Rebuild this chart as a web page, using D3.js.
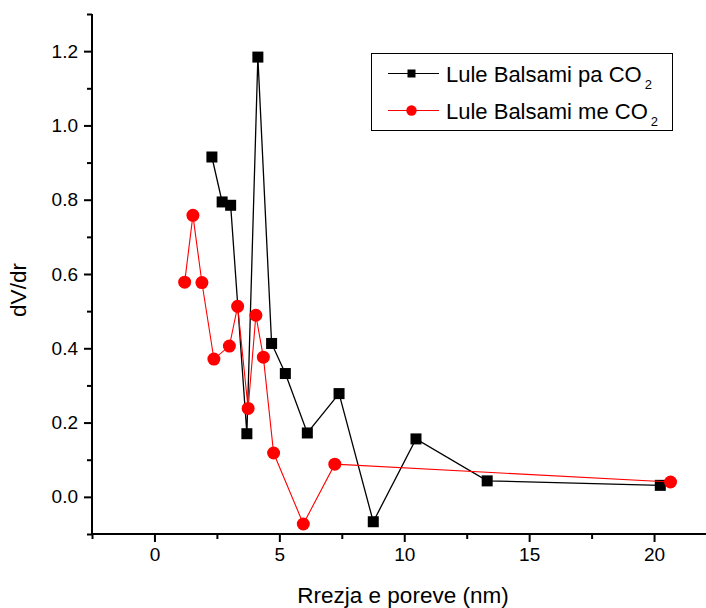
<!DOCTYPE html>
<html>
<head>
<meta charset="utf-8">
<script src="https://cdn.jsdelivr.net/npm/d3@7/dist/d3.min.js"></script>
<style>
  html, body { margin: 0; padding: 0; background: #fff; }
  svg { display: block; font-family: Arial, "Liberation Sans", sans-serif; }
</style>
</head>
<body>
<div id="chart"></div>
<script>
// Data
const seriesNames = ["Lule Balsami pa CO", "Lule Balsami me CO"];
const blackX = [2.30, 2.71, 3.05, 3.70, 4.14, 4.69, 5.24, 6.12, 7.39, 8.76, 10.47, 13.32, 20.25];
const blackY = [0.915, 0.794, 0.785, 0.170, 1.184, 0.413, 0.332, 0.172, 0.278, -0.067, 0.156, 0.043, 0.031];
const redX = [1.21, 1.54, 1.90, 2.38, 3.00, 3.33, 3.75, 4.06, 4.36, 4.77, 5.96, 7.22, 20.66];
const redY = [0.578, 0.758, 0.577, 0.371, 0.406, 0.513, 0.238, 0.489, 0.376, 0.118, -0.073, 0.088, 0.040];
const xTicks = [0, 5, 10, 15, 20];
const xMinorTicks = [-2.5, 2.5, 7.5, 12.5, 17.5, 22.5];
const yTicks = [0.0, 0.2, 0.4, 0.6, 0.8, 1.0, 1.2];
const yMinorTicks = [-0.1, 0.1, 0.3, 0.5, 0.7, 0.9, 1.1, 1.3];
const xTitle = "Rrezja e poreve (nm)";
const yTitle = "dV/dr";

const W = 706, H = 608;
const svg = d3.select("#chart").append("svg").attr("width", W).attr("height", H);

const x = d3.scaleLinear().domain([-2.5, 22.5]).range([92, 92 + 25 * 24.98]);
const y = d3.scaleLinear().domain([-0.1, 1.3]).range([534, 14]);

// Minor ticks
const xMinor = d3.axisBottom(x).tickValues(xMinorTicks).tickSize(5).tickFormat("");
const yMinor = d3.axisLeft(y).tickValues(yMinorTicks).tickSize(5).tickFormat("");
svg.append("g").attr("transform", "translate(0,534)").call(xMinor)
  .call(g => g.select(".domain").remove())
  .call(g => g.selectAll("line").attr("stroke", "#000").attr("stroke-width", 2));
svg.append("g").attr("transform", "translate(92,0)").call(yMinor)
  .call(g => g.select(".domain").remove())
  .call(g => g.selectAll("line").attr("stroke", "#000").attr("stroke-width", 2));

// Major axes
const xAxis = d3.axisBottom(x).tickValues(xTicks).tickSize(8).tickPadding(6).tickFormat(d3.format("d"));
const yAxis = d3.axisLeft(y).tickValues(yTicks).tickSize(8).tickPadding(6).tickFormat(d3.format(".1f"));
svg.append("g").attr("transform", "translate(0,534)").call(xAxis)
  .call(g => g.select(".domain").attr("d", `M92,0H${W}`).attr("stroke", "#000").attr("stroke-width", 2))
  .call(g => g.selectAll("line").attr("stroke", "#000").attr("stroke-width", 2))
  .call(g => g.selectAll("text").attr("font-size", 19).attr("fill", "#000")
    .attr("font-family", "Arial, 'Liberation Sans', sans-serif"));
svg.append("g").attr("transform", "translate(92,0)").call(yAxis)
  .call(g => g.select(".domain").attr("d", "M0,534V14").attr("stroke", "#000").attr("stroke-width", 2))
  .call(g => g.selectAll("line").attr("stroke", "#000").attr("stroke-width", 2))
  .call(g => g.selectAll("text").attr("font-size", 19).attr("fill", "#000")
    .attr("font-family", "Arial, 'Liberation Sans', sans-serif"));

// Axis titles
svg.append("text").attr("x", 403).attr("y", 603).attr("text-anchor", "middle")
  .attr("font-size", 22.5).attr("fill", "#000").text(xTitle);
svg.append("text").attr("transform", "translate(26,290) rotate(-90)").attr("text-anchor", "middle")
  .attr("font-size", 22.5).attr("fill", "#000").text(yTitle);

// Series
const black = blackX.map((v, i) => [v, blackY[i]]);
const red = redX.map((v, i) => [v, redY[i]]);
const line = d3.line().x(d => x(d[0])).y(d => y(d[1]));

svg.append("path").datum(black).attr("d", line).attr("fill", "none")
  .attr("stroke", "#000").attr("stroke-width", 1.3);
svg.append("g").selectAll("rect").data(black).join("rect")
  .attr("x", d => x(d[0]) - 5.5).attr("y", d => y(d[1]) - 5.5)
  .attr("width", 11).attr("height", 11).attr("fill", "#000");

svg.append("path").datum(red).attr("d", line).attr("fill", "none")
  .attr("stroke", "#ff0000").attr("stroke-width", 1.1);
svg.append("g").selectAll("circle").data(red).join("circle")
  .attr("cx", d => x(d[0])).attr("cy", d => y(d[1])).attr("r", 6.5).attr("fill", "#ff0000");

// Legend
const lg = svg.append("g");
lg.append("rect").attr("x", 371.5).attr("y", 53.5).attr("width", 301).attr("height", 77)
  .attr("fill", "#fff").attr("stroke", "#000").attr("stroke-width", 1);
const rows = [
  { name: seriesNames[0], color: "#000", cy: 73.5, shape: "square" },
  { name: seriesNames[1], color: "#ff0000", cy: 110.5, shape: "circle" }
];
rows.forEach(r => {
  lg.append("line").attr("x1", 388).attr("x2", 439).attr("y1", r.cy).attr("y2", r.cy)
    .attr("stroke", r.color).attr("stroke-width", 1.2);
  if (r.shape === "square") {
    lg.append("rect").attr("x", 411.5 - 4).attr("y", r.cy - 4).attr("width", 8).attr("height", 8).attr("fill", r.color);
  } else {
    lg.append("circle").attr("cx", 411.5).attr("cy", r.cy).attr("r", 5.2).attr("fill", r.color);
  }
  const t = lg.append("text").attr("x", 446).attr("y", r.cy + 8).attr("font-size", 22).attr("fill", "#000");
  t.append("tspan").text(r.name);
  t.append("tspan").attr("font-size", 13).attr("dx", 3).attr("dy", 7).text("2");
});
</script>
</body>
</html>
